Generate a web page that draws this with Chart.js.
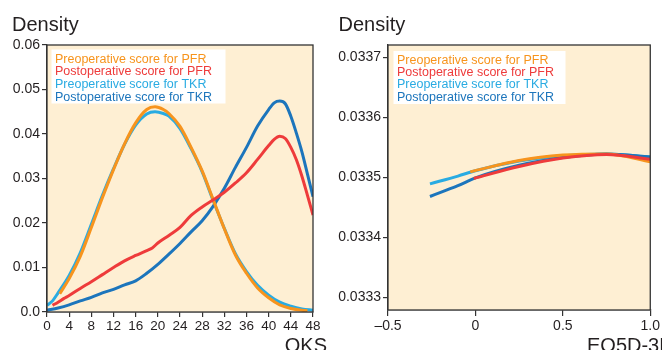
<!DOCTYPE html>
<html>
<head>
<meta charset="utf-8">
<script src="https://cdn.jsdelivr.net/npm/chart.js@4"></script>
<style>
  body { margin: 0; background: #fff; }
  #wrap { position: relative; width: 662px; height: 350px; overflow: hidden; }
  canvas { position: absolute; top: 0; }
  #oks { left: 0; }
  #eq5d { left: 330px; }
</style>
</head>
<body>
<div id="wrap">
  <canvas id="oks" width="330" height="350"></canvas>
  <canvas id="eq5d" width="332" height="350"></canvas>
</div>
<script>
// series labels and colours (legend order)
const seriesLabels = [
  'Preoperative score for PFR',
  'Postoperative score for PFR',
  'Preoperative score for TKR',
  'Postoperative score for TKR'
];
const seriesColors = ['#F7941D', '#EE3B3B', '#29ABE2', '#1C75BC'];

// OKS panel, density
const oksPrePfrX = [2.3, 4, 6, 8, 10, 12, 14, 16, 18, 19.5, 21, 22, 24, 26, 28, 30, 32, 34, 36, 38, 40, 42, 44, 46, 47];
const oksPrePfrY = [0.0041, 0.0075, 0.0125, 0.0190, 0.0257, 0.0320, 0.0378, 0.0425, 0.0455, 0.0461, 0.0455, 0.0446, 0.0417, 0.0370, 0.0317, 0.0252, 0.0187, 0.0128, 0.0087, 0.0054, 0.0032, 0.0016, 0.0008, 0.0004, 0.0003];

const oksPostPfrX = [1, 2, 3, 4, 6, 8, 10, 12, 14, 16, 18, 19, 20, 22, 24, 26, 28, 30, 32, 34, 36, 38, 40, 41, 42, 43, 44, 45, 46, 47, 48];
const oksPostPfrY = [0.0015, 0.0022, 0.0030, 0.0037, 0.0053, 0.0068, 0.0084, 0.0100, 0.0115, 0.0127, 0.0138, 0.0144, 0.0155, 0.0172, 0.0190, 0.0217, 0.0236, 0.0252, 0.0269, 0.0290, 0.0313, 0.0343, 0.0374, 0.0388, 0.0395, 0.0390, 0.0370, 0.0342, 0.0305, 0.0262, 0.0218];

const oksPreTkrX = [0, 1, 2, 4, 6, 8, 10, 12, 14, 16, 18, 19.5, 21, 22, 24, 26, 28, 30, 32, 34, 36, 38, 40, 42, 44, 46, 48];
const oksPreTkrY = [0.0015, 0.0025, 0.0043, 0.0082, 0.0133, 0.0197, 0.0262, 0.0322, 0.0377, 0.0420, 0.0445, 0.0450, 0.0446, 0.0440, 0.0412, 0.0367, 0.0315, 0.0250, 0.0188, 0.0131, 0.0091, 0.0060, 0.0038, 0.0022, 0.0013, 0.0007, 0.0004];

const oksPostTkrX = [0, 2, 4, 6, 8, 10, 12, 14, 16, 18, 20, 22, 24, 26, 28, 30, 32, 34, 36, 38, 40, 41, 42, 43, 44, 45, 46, 47, 48];
const oksPostTkrY = [0.0004, 0.0009, 0.0016, 0.0025, 0.0033, 0.0043, 0.0051, 0.0061, 0.0070, 0.0087, 0.0107, 0.0130, 0.0154, 0.0180, 0.0205, 0.0238, 0.0278, 0.0325, 0.0370, 0.0418, 0.0455, 0.0470, 0.0474, 0.0468, 0.0440, 0.0402, 0.0360, 0.0310, 0.0259];

// EQ5D-3L panel
const eqPrePfrX = [-0.03, 0.25, 0.5, 0.75, 1.0];
const eqPrePfrY = [0.033509, 0.033528, 0.033537, 0.033539, 0.033526];

const eqPostPfrX = [-0.01, 0.25, 0.5, 0.75, 1.0];
const eqPostPfrY = [0.033498, 0.033518, 0.033532, 0.033538, 0.033530];

const eqPreTkrX = [-0.26, -0.1, 0, 0.25, 0.5, 0.75, 1.0];
const eqPreTkrY = [0.033489, 0.033502, 0.033511, 0.033527, 0.033536, 0.033539, 0.033534];

const eqPostTkrX = [-0.26, -0.1, 0, 0.25, 0.5, 0.75, 1.0];
const eqPostTkrY = [0.033468, 0.033486, 0.033499, 0.033520, 0.033533, 0.033539, 0.033534];

// tick labels
const oksXTicks = [0, 4, 8, 12, 16, 20, 24, 28, 32, 36, 40, 44, 48];
const oksYTicks = [0, 0.01, 0.02, 0.03, 0.04, 0.05, 0.06];
const oksYLabels = ['0.0', '0.01', '0.02', '0.03', '0.04', '0.05', '0.06'];
const eqXTicks = [-0.5, 0, 0.5, 1.0];
const eqXLabels = ['\u20130.5', '0', '0.5', '1.0'];
const eqYTicks = [0.0333, 0.0334, 0.0335, 0.0336, 0.0337];
const eqYLabels = ['0.0333', '0.0334', '0.0335', '0.0336', '0.0337'];

Chart.defaults.font.family = '"Liberation Sans", Arial, sans-serif';
Chart.defaults.color = '#231f20';

const toPoints = (xs, ys) => xs.map((x, i) => ({ x: x, y: ys[i] }));

function makeDatasets(series) {
  // red on top, then orange, dark blue, cyan at the bottom
  const drawOrder = [1, 0, 3, 2];
  return series.map((pts, i) => ({
    label: seriesLabels[i],
    data: pts,
    borderColor: seriesColors[i],
    borderWidth: 3,
    pointRadius: 0,
    fill: false,
    tension: 0.4,
    cubicInterpolationMode: 'monotone',
    order: drawOrder[i]
  }));
}

function panelPlugin(cfg) {
  return {
    id: 'panel',
    beforeDatasetsDraw(chart) {
      const a = chart.chartArea;
      const ctx = chart.ctx;
      ctx.save();
      ctx.fillStyle = '#FEEFD3';
      ctx.fillRect(a.left, a.top, a.right - a.left, a.bottom - a.top);
      ctx.restore();
    },
    afterDraw(chart) {
      const a = chart.chartArea;
      const ctx = chart.ctx;
      ctx.save();
      // frame
      ctx.strokeStyle = '#333';
      ctx.lineWidth = 1.3;
      ctx.strokeRect(a.left, a.top, a.right - a.left, a.bottom - a.top);
      // legend box
      ctx.fillStyle = '#fff';
      ctx.fillRect(cfg.legend.x, cfg.legend.y, cfg.legend.w, cfg.legend.h);
      ctx.font = '12.5px "Liberation Sans", Arial, sans-serif';
      ctx.textBaseline = 'alphabetic';
      ctx.textAlign = 'left';
      seriesLabels.forEach((label, i) => {
        ctx.fillStyle = seriesColors[i];
        ctx.fillText(label, cfg.legend.x + 3.5, cfg.legend.base + i * cfg.legend.step);
      });
      // titles
      ctx.fillStyle = '#231f20';
      ctx.font = '20px "Liberation Sans", Arial, sans-serif';
      ctx.fillText('Density', cfg.titleX, 31);
      ctx.textAlign = cfg.xTitleAlign;
      ctx.fillText(cfg.xTitle, cfg.xTitleX, 352);
      ctx.restore();
    }
  };
}

function makeScales(o) {
  return {
    x: {
      type: 'linear',
      min: o.xMin,
      max: o.xMax,
      afterBuildTicks: s => { s.ticks = o.xTicks.map(v => ({ value: v })); },
      ticks: {
        autoSkip: false,
        maxRotation: 0,
        padding: o.xPad,
        font: { size: o.xFont },
        callback: (v, i) => o.xLabels[i]
      },
      grid: { drawOnChartArea: false, tickLength: o.xTickLen, color: '#333', lineWidth: 1.2 },
      border: { color: '#333', width: 1.3 },
      afterFit: s => { s.height = o.xHeight; }
    },
    y: {
      type: 'linear',
      min: o.yMin,
      max: o.yMax,
      afterBuildTicks: s => { s.ticks = o.yTicks.map(v => ({ value: v })); },
      ticks: {
        autoSkip: false,
        padding: 2,
        font: { size: 14 },
        callback: (v, i) => o.yLabels[i]
      },
      grid: { drawOnChartArea: false, tickLength: 5, color: '#333', lineWidth: 1.2 },
      border: { color: '#333', width: 1.3 },
      afterFit: s => { s.width = o.yWidth; }
    }
  };
}

const oksChart = new Chart(document.getElementById('oks'), {
  type: 'line',
  data: {
    datasets: makeDatasets([
      toPoints(oksPrePfrX, oksPrePfrY),
      toPoints(oksPostPfrX, oksPostPfrY),
      toPoints(oksPreTkrX, oksPreTkrY),
      toPoints(oksPostTkrX, oksPostTkrY)
    ])
  },
  options: {
    responsive: false,
    animation: false,
    layout: { padding: { top: 45, right: 17, left: 0, bottom: 0 } },
    scales: makeScales({
      xMin: 0, xMax: 48, xTicks: oksXTicks, xLabels: oksXTicks.map(String),
      xFont: 13.5, xPad: 1, xTickLen: 5, xHeight: 38,
      yMin: 0, yMax: 0.06, yTicks: oksYTicks, yLabels: oksYLabels, yWidth: 47
    }),
    plugins: { legend: { display: false }, tooltip: { enabled: false } }
  },
  plugins: [panelPlugin({
    legend: { x: 51.5, y: 49.5, w: 174, h: 54, base: 62.5, step: 12.7 },
    titleX: 12, xTitle: 'OKS', xTitleX: 327, xTitleAlign: 'right'
  })]
});

const eqChart = new Chart(document.getElementById('eq5d'), {
  type: 'line',
  data: {
    datasets: makeDatasets([
      toPoints(eqPrePfrX, eqPrePfrY),
      toPoints(eqPostPfrX, eqPostPfrY),
      toPoints(eqPreTkrX, eqPreTkrY),
      toPoints(eqPostTkrX, eqPostTkrY)
    ])
  },
  options: {
    responsive: false,
    animation: false,
    layout: { padding: { top: 45, right: 10, left: 0, bottom: 0 } },
    scales: makeScales({
      xMin: -0.5, xMax: 1.0, xTicks: eqXTicks, xLabels: eqXLabels,
      xFont: 14, xPad: 2, xTickLen: 6, xHeight: 40,
      yMin: 0.0332788, yMax: 0.0337205, yTicks: eqYTicks, yLabels: eqYLabels, yWidth: 58
    }),
    plugins: { legend: { display: false }, tooltip: { enabled: false } }
  },
  plugins: [panelPlugin({
    legend: { x: 63.5, y: 51, w: 172, h: 53, base: 64, step: 12.2 },
    titleX: 8.5, xTitle: 'EQ5D-3L', xTitleX: 257, xTitleAlign: 'left'
  })]
});
</script>
</body>
</html>
